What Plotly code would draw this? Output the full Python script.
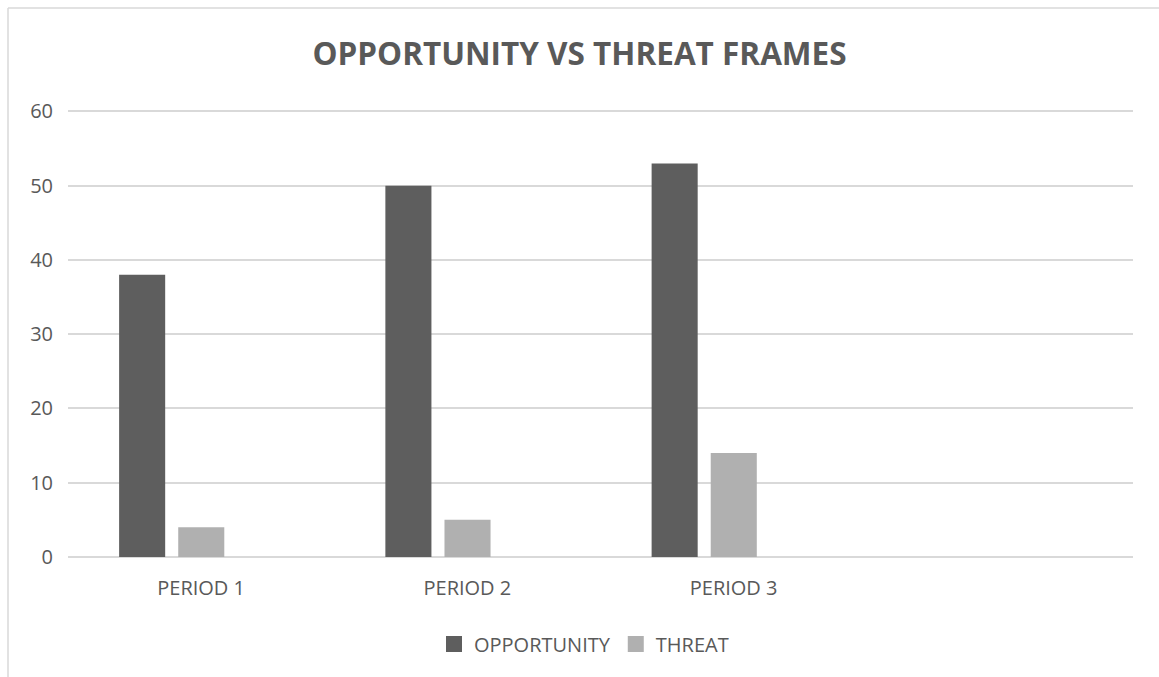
import plotly.graph_objects as go

# Frame counts per period
periods = ["PERIOD 1", "PERIOD 2", "PERIOD 3"]
opportunity = [38, 50, 53]
threat = [4, 5, 14]

TEXT = "#595959"
GRID = "#d9d9d9"
OPP_COLOR = "#5e5e5e"
THR_COLOR = "#b0b0b0"
W, H = 1159, 677
ML, MR, MT, MB = 68, 26, 104, 120
PW, PH = W - ML - MR, H - MT - MB
Y_TOP = 61  # headroom so the 60 gridline is drawn inside the plot area

fig = go.Figure()
fig.add_trace(go.Bar(
    name="OPPORTUNITY", x=periods, y=opportunity,
    marker=dict(color=OPP_COLOR, line=dict(width=0)),
    width=0.173, offset=-0.308, showlegend=False,
))
fig.add_trace(go.Bar(
    name="THREAT", x=periods, y=threat,
    marker=dict(color=THR_COLOR, line=dict(width=0)),
    width=0.173, offset=-0.086, showlegend=False,
))
# Square legend keys
for name, color in [("OPPORTUNITY", OPP_COLOR), ("THREAT", THR_COLOR)]:
    fig.add_trace(go.Scatter(
        name=name, x=[None], y=[None], mode="markers",
        marker=dict(symbol="square", size=16, color=color),
        showlegend=True,
    ))

# Chart-area border (left and top edges)
bx = (8 - ML) / PW
by_top = 1 + (MT - 8) / PH
fig.add_shape(type="line", xref="paper", yref="paper",
              x0=bx, x1=bx, y0=-(MB + 5) / PH, y1=by_top,
              line=dict(color=GRID, width=1.5))
fig.add_shape(type="line", xref="paper", yref="paper",
              x0=bx, x1=1 + (MR + 5) / PW, y0=by_top, y1=by_top,
              line=dict(color=GRID, width=1.5))

fig.update_layout(
    width=W, height=H,
    margin=dict(l=ML, r=MR, t=MT, b=MB),
    paper_bgcolor="white", plot_bgcolor="white",
    font=dict(family="Open Sans, sans-serif", color=TEXT, size=20),
    title=dict(text="<b>OPPORTUNITY VS THREAT FRAMES</b>",
               x=0.5, xanchor="center", y=1 - 54 / H, yanchor="middle",
               font=dict(size=31.5, color=TEXT)),
    showlegend=True,
    legend=dict(orientation="h", x=(584 - ML) / PW, xanchor="center",
                y=-(644 - 557) / PH, yanchor="middle",
                font=dict(size=20, color=TEXT), itemwidth=30,
                traceorder="normal"),
)
fig.update_xaxes(
    type="category", range=[-0.5, 3.5],
    showgrid=False, showline=False, zeroline=False,
    ticks="", ticklabelstandoff=17,
    tickfont=dict(size=20, color=TEXT),
)
fig.update_yaxes(
    range=[0, Y_TOP], tickvals=[0, 10, 20, 30, 40, 50, 60],
    showgrid=True, gridcolor=GRID, gridwidth=1.5,
    zeroline=True, zerolinecolor=GRID, zerolinewidth=1.5,
    showline=False, ticks="", ticklabelstandoff=14,
    tickfont=dict(size=20, color=TEXT),
)

fig.write_html("out.html")
